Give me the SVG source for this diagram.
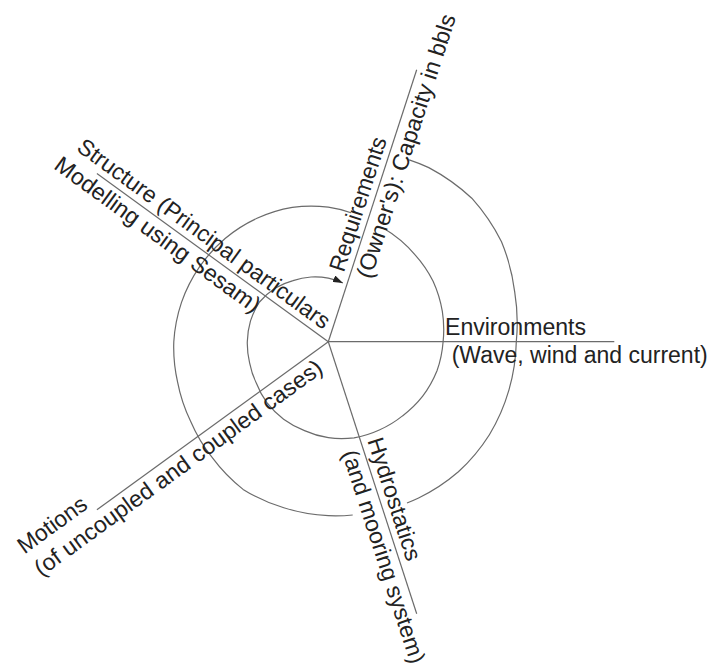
<svg xmlns="http://www.w3.org/2000/svg" width="710" height="670" viewBox="0 0 710 670">
<style>
.spoke{stroke:#6b6b6b;stroke-width:1.2;fill:none}
.spiral{stroke:#6b6b6b;stroke-width:1.2;fill:none}
.lbl{font-family:"Liberation Sans",Arial,sans-serif;font-size:23px;fill:#222}
</style>
<defs>
<marker id="arrow" markerUnits="userSpaceOnUse" viewBox="0 0 10 7" markerWidth="10" markerHeight="7" refX="10" refY="3.5" orient="auto">
<path d="M0,0 L10,3.5 L0,7 z" fill="#222"/>
</marker>
</defs>
<rect width="710" height="670" fill="#fff"/>
<g id="connectors">
<line class="spoke" x1="328.3" y1="341.7" x2="614.3" y2="341.7"/>
<line class="spoke" x1="328.3" y1="341.7" x2="416.7" y2="613.7"/>
<line class="spoke" x1="328.3" y1="341.7" x2="96.9" y2="509.8"/>
<line class="spoke" x1="328.3" y1="341.7" x2="96.9" y2="173.6"/>
<line class="spoke" x1="328.3" y1="341.7" x2="416.7" y2="69.7"/>
</g>
<g id="spiral">
<path class="spiral" d="M409.2,159.9 A200,200 0 0 1 428.8,167.6 A202,202 0 0 1 471.8,198.2 A201.5,201.5 0 0 1 501.5,241.7 A196.5,196.5 0 0 1 514.7,291.8 A190.5,190.5 0 0 1 516.3,341.7 A187.5,187.5 0 0 1 508.9,390.1 A186.5,186.5 0 0 1 489.4,434.7 A185,185 0 0 1 458.4,471.8 A182,182 0 0 1 418.6,498 A180,180 0 0 1 407,503"/>
<path class="spiral" d="M352.7,515 A174.5,174.5 0 0 1 328.3,515.7 A173,173 0 0 1 283.8,507.8 A171,171 0 0 1 243.1,489.4 A167,167 0 0 1 212.3,457.7 A161.5,161.5 0 0 1 190.6,421.2 A157.5,157.5 0 0 1 177.6,382.1 A155,155 0 0 1 173.8,341.7 A153,153 0 0 1 181.5,302.4 A150.5,150.5 0 0 1 199.3,267.2 A147.5,147.5 0 0 1 225.1,238.5 A144,144 0 0 1 257,218.3 A141,141 0 0 1 292.3,207.4 A137,137 0 0 1 328.3,207.2 A133,133 0 0 1 351,212.7"/>
<path class="spiral" marker-end="url(#arrow)" d="M383.6,228.3 A124.5,124.5 0 0 1 415.1,254.9 A122,122 0 0 1 433.1,281.2 A119.5,119.5 0 0 1 442.3,311.2 A116.5,116.5 0 0 1 443.1,341.7 A113.5,113.5 0 0 1 437,370.8 A111,111 0 0 1 422.7,396.2 A107,107 0 0 1 402.5,415.9 A103.5,103.5 0 0 1 379.3,430 A100.5,100.5 0 0 1 354.1,437.8 A98,98 0 0 1 328.3,437.7 A94,94 0 0 1 304.5,430.6 A91,91 0 0 1 283.6,419.2 A88,88 0 0 1 267.1,402.9 A85,85 0 0 1 256.4,383.2 A82,82 0 0 1 249.6,362.8 A81,81 0 0 1 247.3,341.7 A81,81 0 0 1 250.5,320.9 A80,80 0 0 1 259.5,302 A77.5,77.5 0 0 1 274.9,288.3 A73,73 0 0 1 293.05,280.65 A69,69 0 0 1 311,277 A65,65 0 0 1 328.3,278.2 A62,62 0 0 1 342.9,283"/>
</g>
<g id="environments">
<text class="lbl" x="445" y="335.2" textLength="141" lengthAdjust="spacingAndGlyphs">Environments</text>
<text class="lbl" x="451.7" y="363.2" textLength="256" lengthAdjust="spacingAndGlyphs">(Wave, wind and current)</text>
</g>
<g id="requirements">
<text class="lbl" transform="translate(343.7,273.1) rotate(-72)" textLength="140" lengthAdjust="spacingAndGlyphs">Requirements</text>
<text class="lbl" transform="translate(370.9,279.8) rotate(-72)" textLength="276" lengthAdjust="spacingAndGlyphs">(Owner's): Capacity in bbls</text>
</g>
<g id="hydrostatics">
<text class="lbl" transform="translate(367.3,440.5) rotate(72)" textLength="128" lengthAdjust="spacingAndGlyphs">Hydrostatics</text>
<text class="lbl" transform="translate(341.9,452.9) rotate(72)" textLength="223" lengthAdjust="spacingAndGlyphs">(and mooring system)</text>
</g>
<g id="motions">
<text class="lbl" transform="translate(24.4,554.5) rotate(-36)" textLength="80" lengthAdjust="spacingAndGlyphs">Motions</text>
<text class="lbl" transform="translate(41.2,577) rotate(-36)" textLength="350" lengthAdjust="spacingAndGlyphs">(of uncoupled and coupled cases)</text>
</g>
<g id="structure">
<text class="lbl" transform="translate(75.6,150) rotate(36)" textLength="306" lengthAdjust="spacingAndGlyphs">Structure (Principal particulars</text>
<text class="lbl" transform="translate(52.8,168) rotate(36)" textLength="248" lengthAdjust="spacingAndGlyphs">Modelling using Sesam)</text>
</g>
</svg>
